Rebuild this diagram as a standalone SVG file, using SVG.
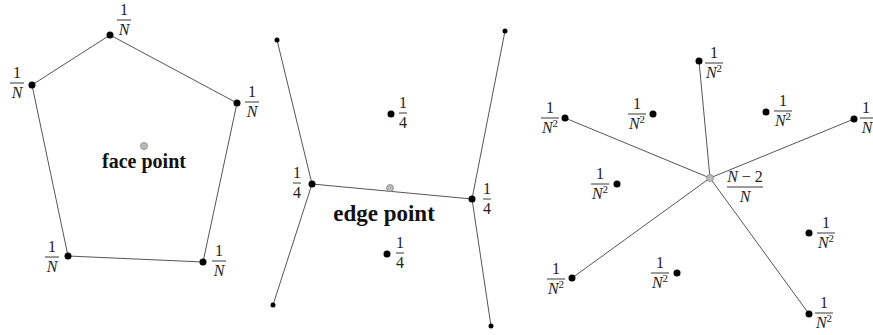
<svg xmlns="http://www.w3.org/2000/svg" width="873" height="335" viewBox="0 0 873 335">
<style>
.bg{fill:#ffffff}
.edge{stroke:#555;stroke-width:1;fill:none}
.dot{fill:#000}
.gdot{fill:#bbb;stroke:#888;stroke-width:0.8}
.num{font-family:"Liberation Serif","Times New Roman",serif;font-size:16px;fill:#222;text-anchor:middle}
.den{font-family:"Liberation Serif","Times New Roman",serif;font-size:16px;fill:#222;text-anchor:middle}
.it{font-style:italic}
.sup{font-size:11px;font-style:normal}
.bar{stroke:#222;stroke-width:0.9}
.big{font-family:"Liberation Serif","Times New Roman",serif;font-weight:bold;fill:#111;text-anchor:middle}
</style>
<rect class="bg" x="0" y="0" width="873" height="335"/>

<g id="connectors">
  <polyline class="edge" points="110,35 237,103 203,262 68,256 32,85 110,35"/>
  <polyline class="edge" points="277,40 312,184 273,305"/>
  <polyline class="edge" points="505,31 472,199 491,326"/>
  <line class="edge" x1="312" y1="184" x2="472" y2="199"/>
  <line class="edge" x1="710" y1="178" x2="699" y2="61"/>
  <line class="edge" x1="710" y1="178" x2="565" y2="118"/>
  <line class="edge" x1="710" y1="178" x2="854" y2="119"/>
  <line class="edge" x1="710" y1="178" x2="572" y2="278"/>
  <line class="edge" x1="710" y1="178" x2="809" y2="314"/>
</g>

<g id="face-v1">
  <circle class="dot" cx="110" cy="35" r="3.5"/>
  <text class="num" x="124" y="15">1</text><line class="bar" x1="117" y1="20" x2="131" y2="20"/><text class="den it" x="124" y="35">N</text>
</g>
<g id="face-v2">
  <circle class="dot" cx="237" cy="103" r="3.5"/>
  <text class="num" x="252" y="97">1</text><line class="bar" x1="245" y1="102" x2="259" y2="102"/><text class="den it" x="252" y="117">N</text>
</g>
<g id="face-v3">
  <circle class="dot" cx="203" cy="262" r="3.5"/>
  <text class="num" x="219" y="256">1</text><line class="bar" x1="212" y1="261" x2="226" y2="261"/><text class="den it" x="219" y="276">N</text>
</g>
<g id="face-v4">
  <circle class="dot" cx="68" cy="256" r="3.5"/>
  <text class="num" x="52" y="252">1</text><line class="bar" x1="45" y1="257" x2="59" y2="257"/><text class="den it" x="52" y="272">N</text>
</g>
<g id="face-v5">
  <circle class="dot" cx="32" cy="85" r="3.5"/>
  <text class="num" x="17" y="78">1</text><line class="bar" x1="10" y1="83" x2="24" y2="83"/><text class="den it" x="17" y="98">N</text>
</g>
<g id="face-point">
  <circle class="gdot" cx="144" cy="146" r="3.5"/>
  <text class="big" x="144" y="168" font-size="20">face point</text>
</g>

<g id="edge-end-tl"><circle class="dot" cx="277" cy="40" r="2.5"/></g>
<g id="edge-end-bl"><circle class="dot" cx="273" cy="305" r="2.5"/></g>
<g id="edge-end-tr"><circle class="dot" cx="505" cy="31" r="2.5"/></g>
<g id="edge-end-br"><circle class="dot" cx="491" cy="326" r="2.5"/></g>
<g id="edge-v-left">
  <circle class="dot" cx="312" cy="184" r="3.5"/>
  <text class="num" x="297" y="178">1</text><line class="bar" x1="293" y1="183" x2="301" y2="183"/><text class="den" x="297" y="198">4</text>
</g>
<g id="edge-v-right">
  <circle class="dot" cx="472" cy="199" r="3.5"/>
  <text class="num" x="487" y="194">1</text><line class="bar" x1="483" y1="199" x2="491" y2="199"/><text class="den" x="487" y="214">4</text>
</g>
<g id="edge-f-top">
  <circle class="dot" cx="391" cy="114" r="3.5"/>
  <text class="num" x="403" y="108">1</text><line class="bar" x1="399" y1="113" x2="407" y2="113"/><text class="den" x="403" y="128">4</text>
</g>
<g id="edge-f-bottom">
  <circle class="dot" cx="387" cy="254" r="3.5"/>
  <text class="num" x="400" y="248">1</text><line class="bar" x1="396" y1="253" x2="404" y2="253"/><text class="den" x="400" y="268">4</text>
</g>
<g id="edge-point">
  <circle class="gdot" cx="390" cy="188" r="3.5"/>
  <text class="big" x="384" y="221" font-size="23">edge point</text>
</g>

<g id="vert-top">
  <circle class="dot" cx="699" cy="61" r="3.5"/>
  <text class="num" x="714" y="58">1</text><line class="bar" x1="705" y1="63" x2="723" y2="63"/><text class="den" x="714" y="78"><tspan class="it">N</tspan><tspan class="sup" dy="-6">2</tspan></text>
</g>
<g id="vert-left">
  <circle class="dot" cx="565" cy="118" r="3.5"/>
  <text class="num" x="550" y="113">1</text><line class="bar" x1="541" y1="118" x2="559" y2="118"/><text class="den" x="550" y="133"><tspan class="it">N</tspan><tspan class="sup" dy="-6">2</tspan></text>
</g>
<g id="vert-right">
  <circle class="dot" cx="854" cy="119" r="3.5"/>
  <text class="num" x="866" y="113">1</text><line class="bar" x1="860" y1="118" x2="873" y2="118"/><text class="den it" x="867" y="133">N</text>
</g>
<g id="vert-bl">
  <circle class="dot" cx="572" cy="278" r="3.5"/>
  <text class="num" x="556" y="274">1</text><line class="bar" x1="547" y1="279" x2="565" y2="279"/><text class="den" x="556" y="294"><tspan class="it">N</tspan><tspan class="sup" dy="-6">2</tspan></text>
</g>
<g id="vert-br">
  <circle class="dot" cx="809" cy="314" r="3.5"/>
  <text class="num" x="824" y="308">1</text><line class="bar" x1="815" y1="313" x2="833" y2="313"/><text class="den" x="824" y="328"><tspan class="it">N</tspan><tspan class="sup" dy="-6">2</tspan></text>
</g>
<g id="face-il">
  <circle class="dot" cx="653" cy="114" r="3.5"/>
  <text class="num" x="637" y="109">1</text><line class="bar" x1="628" y1="114" x2="646" y2="114"/><text class="den" x="637" y="129"><tspan class="it">N</tspan><tspan class="sup" dy="-6">2</tspan></text>
</g>
<g id="face-ir">
  <circle class="dot" cx="766" cy="112" r="3.5"/>
  <text class="num" x="783" y="106">1</text><line class="bar" x1="774" y1="111" x2="792" y2="111"/><text class="den" x="783" y="126"><tspan class="it">N</tspan><tspan class="sup" dy="-6">2</tspan></text>
</g>
<g id="face-ml">
  <circle class="dot" cx="617" cy="184" r="3.5"/>
  <text class="num" x="600" y="179">1</text><line class="bar" x1="591" y1="184" x2="609" y2="184"/><text class="den" x="600" y="199"><tspan class="it">N</tspan><tspan class="sup" dy="-6">2</tspan></text>
</g>
<g id="face-mr">
  <circle class="dot" cx="809" cy="233" r="3.5"/>
  <text class="num" x="826" y="228">1</text><line class="bar" x1="817" y1="233" x2="835" y2="233"/><text class="den" x="826" y="248"><tspan class="it">N</tspan><tspan class="sup" dy="-6">2</tspan></text>
</g>
<g id="face-bm">
  <circle class="dot" cx="677" cy="273" r="3.5"/>
  <text class="num" x="660" y="268">1</text><line class="bar" x1="651" y1="273" x2="669" y2="273"/><text class="den" x="660" y="288"><tspan class="it">N</tspan><tspan class="sup" dy="-6">2</tspan></text>
</g>
<g id="vertex-point">
  <circle class="gdot" cx="710" cy="178" r="3.5"/>
  <text class="num" x="745" y="182"><tspan class="it">N</tspan> − 2</text><line class="bar" x1="727" y1="187" x2="763" y2="187"/><text class="den it" x="745" y="202">N</text>
</g>
</svg>
